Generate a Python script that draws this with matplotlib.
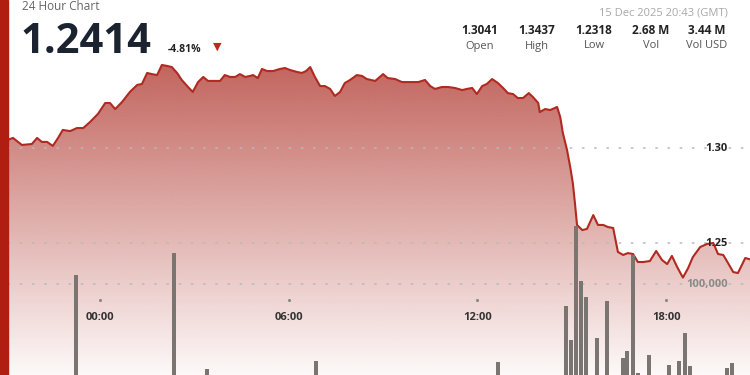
import numpy as np
import matplotlib; matplotlib.use('Agg')
import matplotlib.pyplot as plt
from matplotlib import transforms
from matplotlib.patches import Rectangle

plt.rcParams['font.family'] = ['Open Sans', 'DejaVu Sans']

# times are minutes from 00:00 on 15 Dec (negative = evening of 14 Dec)
price_t = [-176, -166, -149, -130, -120, -111, -101, -90, -80, -71, -57, -44, -32, -19, -4,
           10, 19, 29, 42, 57, 71, 80, 90, 99, 109, 118, 128, 137, 147, 156, 168, 177, 187,
           197, 206, 219, 229, 238, 248, 258, 267, 277, 286, 292, 301, 309, 319, 330, 343,
           353, 362, 376, 385, 393, 401, 410, 420, 429, 439, 448, 458, 467, 477, 490, 500,
           509, 525, 540, 549, 563, 576, 588, 607, 620, 630, 639, 652, 664, 677, 691, 700,
           710, 719, 729, 738, 748, 759, 769, 778, 788, 797, 807, 818, 826, 836, 839, 849,
           859, 872, 878, 883, 891, 897, 902, 906, 910, 920, 929, 941, 950, 960, 969, 979,
           988, 998, 1007, 1017, 1026, 1036, 1049, 1061, 1072, 1082, 1091, 1101, 1112, 1122,
           1131, 1145, 1158, 1170, 1179, 1189, 1198, 1208, 1217, 1231, 1240]
price = [1.3043, 1.3053, 1.3016, 1.3021, 1.3053, 1.3032, 1.3032, 1.3011, 1.3053, 1.3095,
         1.3089, 1.3105, 1.3105, 1.3137, 1.3179, 1.3237, 1.3237, 1.3205, 1.3242, 1.3295,
         1.3332, 1.3337, 1.3395, 1.3389, 1.3384, 1.3437, 1.3432, 1.3426, 1.3395, 1.3358,
         1.3321, 1.3295, 1.3347, 1.3374, 1.3353, 1.3353, 1.3353, 1.3384, 1.3374, 1.3374,
         1.3389, 1.3374, 1.3379, 1.3384, 1.3368, 1.3416, 1.3405, 1.3405, 1.3416, 1.3421,
         1.3411, 1.3400, 1.3395, 1.3405, 1.3426, 1.3374, 1.3326, 1.3326, 1.3311, 1.3274,
         1.3295, 1.3342, 1.3358, 1.3384, 1.3379, 1.3363, 1.3353, 1.3389, 1.3368, 1.3363,
         1.3347, 1.3347, 1.3347, 1.3358, 1.3326, 1.3311, 1.3321, 1.3321, 1.3316, 1.3305,
         1.3311, 1.3316, 1.3284, 1.3326, 1.3337, 1.3363, 1.3342, 1.3316, 1.3289, 1.3284,
         1.3263, 1.3263, 1.3289, 1.3268, 1.3237, 1.3189, 1.3205, 1.3200, 1.3216, 1.3163,
         1.3079, 1.2989, 1.2900, 1.2816, 1.2711, 1.2595, 1.2568, 1.2574, 1.2647, 1.2595,
         1.2595, 1.2584, 1.2579, 1.2453, 1.2437, 1.2447, 1.2442, 1.2400, 1.2400, 1.2405,
         1.2458, 1.2411, 1.2389, 1.2432, 1.2374, 1.2318, 1.2368, 1.2426, 1.2479, 1.2495,
         1.2500, 1.2442, 1.2437, 1.2395, 1.2347, 1.2342, 1.2421, 1.2414]

vol_t = [-46, 141, 204, 412, 759, 889, 899, 908, 918, 927, 948, 967, 998, 1005, 1017,
         1026, 1047, 1086, 1105, 1116, 1126, 1196, 1206]
vol = [108000, 128000, 23000, 30600, 29700, 80200, 49500, 152300, 102700, 88300, 51400,
       84700, 33300, 39600, 126100, 19800, 36000, 27000, 30600, 55900, 26100, 24300, 28800]

last_price = '1.2414'
change_pct = '-4.81%'
stamp = '15 Dec 2025 20:43 (GMT)'
stat_values = ['1.3041', '1.3437', '1.2318', '2.68 M', '3.44 M']
stat_labels = ['Open', 'High', 'Low', 'Vol', 'Vol USD']
tick_t = [0, 360, 720, 1080]
tick_labels = ['00:00', '06:00', '12:00', '18:00']
price_ticks = [1.30, 1.25]
price_tick_labels = ['1.30', '1.25']
vol_ticks = [100000]
vol_tick_labels = ['100,000']

T0, T1 = -175.5, 1240
P0, P1 = 1.17, 1.3779
VMAX = 355856

fig = plt.figure(figsize=(7.5, 3.75), dpi=100)
fig.patch.set_facecolor('white')
ax = fig.add_axes([8/750, -20/375, 742/750, 395/375])
ax2 = ax.twinx()

# gradient fill under the price line
fill = ax.fill_between(price_t, price, P0, color='none', lw=0)
ypx = np.linspace(0, 395, 400)
alpha = np.clip(0.72 - 0.69 * (ypx - 64) / 311, 0.02, 0.8)
rgba = np.zeros((len(ypx), 2, 4))
rgba[..., 0] = 170/255; rgba[..., 1] = 40/255; rgba[..., 2] = 30/255
rgba[..., 3] = alpha[:, None]
img = ax.imshow(rgba, extent=[T0, T1, P0, P1], aspect='auto', origin='upper',
                zorder=1, interpolation='bilinear')
img.set_clip_path(fill.get_paths()[0], ax.transData)

for p in price_ticks:
    ax.axhline(p, color='#b9b9b9', lw=1.1, dashes=(1, 7), dash_capstyle='round', zorder=2)
ax.plot(price_t, price, color='#b02a22', lw=1.5, zorder=3, solid_joinstyle='round')

ax.set_xlim(T0, T1)
ax.set_ylim(P0, P1)
ax.set_axis_off()

ax2.axhline(vol_ticks[0], color='#b9b9b9', lw=1.1, dashes=(1, 7), dash_capstyle='round', zorder=1)
ax2.bar(vol_t, vol, width=7.5, color='#7a7570', zorder=2)
ax2.set_ylim(0, VMAX)
ax2.set_xlim(T0, T1)
ax2.set_axis_off()

# axis labels drawn inside the plot
yblend = transforms.blended_transform_factory(ax2.transAxes, ax.transData)
for p, lab in zip(price_ticks, price_tick_labels):
    ax2.text(0.970, p, lab, transform=yblend, ha='right', va='center',
             fontsize=8, fontweight='bold', color='#222222', zorder=5)
vblend = transforms.blended_transform_factory(ax2.transAxes, ax2.transData)
for v, lab in zip(vol_ticks, vol_tick_labels):
    ax2.text(0.970, v, lab, transform=vblend, ha='right', va='center',
             fontsize=8, fontweight='bold', color='#8a8a8a', zorder=5)

xblend = transforms.blended_transform_factory(ax2.transData, fig.transFigure)
for t, lab in zip(tick_t, tick_labels):
    ax2.plot([t], [1 - 300/375], marker='o', ms=1.2, color='#888888', transform=xblend, zorder=5)
    ax2.text(t, 1 - 318/375, lab, transform=xblend, ha='center', va='center',
             fontsize=8, fontweight='bold', color='#333333', zorder=5)

# left accent bar
fig.patches.append(Rectangle((0, 0), 8/750, 1, transform=fig.transFigure,
                             color='#b01e12', zorder=10))

# header
fig.text(22/750, 1 - 6/375, '24 Hour Chart', fontsize=8.5, color='#666666', va='center')
fig.text(21/750, 1 - 53/375, last_price, fontsize=30, fontweight='bold', color='#1b2330',
         va='baseline')
fig.text(168/750, 1 - 52/375, change_pct, fontsize=7.5, fontweight='bold', color='#222222',
         va='baseline')
fig.text(217/750, 1 - 47/375, '▼', fontsize=8, color='#c0281e', ha='center', va='center',
         family='DejaVu Sans')
fig.text(728/750, 1 - 13/375, stamp, fontsize=8, color='#a8a8a8', ha='right', va='center')
stat_x = [480, 537, 594, 651, 707]
for x, v, lab in zip(stat_x, stat_values, stat_labels):
    fig.text(x/750, 1 - 31/375, v, fontsize=8.5, fontweight='bold', color='#222222',
             ha='center', va='center')
    fig.text(x/750, 1 - 46/375, lab, fontsize=8, color='#555555', ha='center', va='center')

fig.savefig('out.png', dpi=100)
